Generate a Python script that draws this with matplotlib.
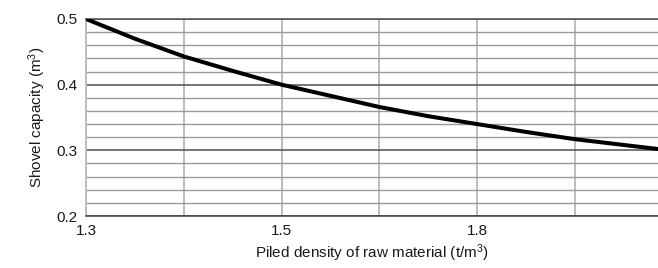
import matplotlib
matplotlib.use('Agg')
import matplotlib.pyplot as plt
from matplotlib.ticker import FixedLocator, MultipleLocator

plt.rcParams['font.family'] = ['Liberation Sans Narrow', 'Liberation Sans', 'DejaVu Sans']
plt.rcParams['mathtext.default'] = 'regular'

# curve, x in grid steps from the left edge
grid_pos = [0.0, 0.5, 1.0, 1.5, 2.0, 2.5, 3.0, 3.5, 4.0, 4.5, 5.0, 5.85]
capacity = [0.500, 0.470, 0.443, 0.421, 0.400, 0.383, 0.366, 0.352, 0.340, 0.328, 0.317, 0.302]

xtick_pos = [0, 2, 4]
xtick_labels = ['1.3', '1.5', '1.8']
ytick_vals = [0.2, 0.3, 0.4, 0.5]
ytick_labels = ['0.2', '0.3', '0.4', '0.5']

fig = plt.figure(figsize=(6.58, 2.68), dpi=100)
ax = fig.add_axes([86/658, 1 - 216/268, 1 - 86/658, (216 - 19)/268])

ax.set_xlim(0, 5.85)
ax.set_ylim(0.2, 0.5)

# vertical grid every step, light
for gx in range(1, 6):
    ax.axvline(gx, color='#bdbdbd', lw=1.4, zorder=1)
# horizontal grid every 0.02, darker on the 0.1 lines
ax.yaxis.set_major_locator(FixedLocator(ytick_vals))
ax.yaxis.set_minor_locator(MultipleLocator(0.02))
ax.set_yticklabels(ytick_labels)
ax.grid(which='minor', axis='y', color='#9a9a9a', lw=1.0, zorder=1)
ax.grid(which='major', axis='y', color='#505050', lw=1.1, zorder=1)

ax.plot(grid_pos, capacity, color='black', lw=2.9, solid_capstyle='round', zorder=3)

ax.set_xticks(xtick_pos)
ax.set_xticklabels(xtick_labels)
ax.tick_params(axis='both', which='both', length=0, labelsize=11, colors='#1a1a1a')
ax.tick_params(axis='y', pad=6)
ax.tick_params(axis='x', pad=6)

ax.spines['right'].set_visible(False)
ax.spines['top'].set_color('#505050')
ax.spines['top'].set_linewidth(1.1)
ax.spines['left'].set_color('#bdbdbd')
ax.spines['left'].set_linewidth(1.4)
ax.spines['bottom'].set_color('#404040')
ax.spines['bottom'].set_linewidth(1.1)

ax.set_ylabel('Shovel capacity (m$^3$)', fontsize=11, labelpad=6, color='#1a1a1a')
ax.set_xlabel('Piled density of raw material (t/m$^3$)', fontsize=11, labelpad=3, color='#1a1a1a')

fig.savefig('out.png', dpi=100)
